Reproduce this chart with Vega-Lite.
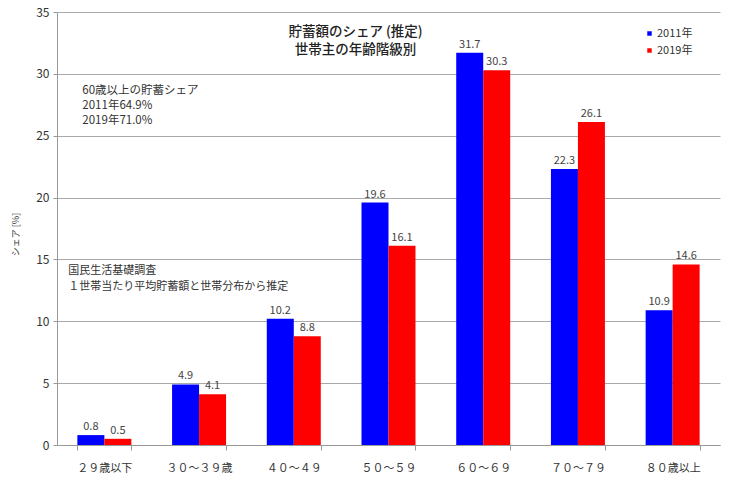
{
  "$schema": "https://vega.github.io/schema/vega-lite/v6.json",
  "autosize": "none",
  "width": 663,
  "height": 433,
  "padding": {"left": 57, "top": 12, "right": 14, "bottom": 35},
  "background": "white",
  "title": {
    "text": "貯蓄額のシェア (推定)",
    "subtitle": "世帯主の年齢階級別",
    "anchor": "middle",
    "frame": "group",
    "font": "Noto Sans CJK JP",
    "fontSize": 13.5,
    "fontWeight": 500,
    "color": "#222222",
    "subtitleFont": "Noto Sans CJK JP",
    "subtitleFontSize": 13.5,
    "subtitleFontWeight": 500,
    "subtitleColor": "#222222",
    "subtitlePadding": 4,
    "dx": -33,
    "dy": 50,
    "offset": 0
  },
  "datasets": {
    "bars": [
      {"age": "２９歳以下", "year": "2011年", "value": 0.8},
      {"age": "２９歳以下", "year": "2019年", "value": 0.5},
      {"age": "３０～３９歳", "year": "2011年", "value": 4.9},
      {"age": "３０～３９歳", "year": "2019年", "value": 4.1},
      {"age": "４０～４９", "year": "2011年", "value": 10.2},
      {"age": "４０～４９", "year": "2019年", "value": 8.8},
      {"age": "５０～５９", "year": "2011年", "value": 19.6},
      {"age": "５０～５９", "year": "2019年", "value": 16.1},
      {"age": "６０～６９", "year": "2011年", "value": 31.7},
      {"age": "６０～６９", "year": "2019年", "value": 30.3},
      {"age": "７０～７９", "year": "2011年", "value": 22.3},
      {"age": "７０～７９", "year": "2019年", "value": 26.1},
      {"age": "８０歳以上", "year": "2011年", "value": 10.9},
      {"age": "８０歳以上", "year": "2019年", "value": 14.6}
    ],
    "notes": [
      {"age": "２９歳以下", "y": 28.6, "label": "60歳以上の貯蓄シェア"},
      {"age": "２９歳以下", "y": 27.4, "label": "2011年64.9%"},
      {"age": "２９歳以下", "y": 26.2, "label": "2019年71.0%"}
    ],
    "notes2": [
      {"age": "２９歳以下", "y": 14.05, "label": "国民生活基礎調査"},
      {"age": "２９歳以下", "y": 12.8, "label": "１世帯当たり平均貯蓄額と世帯分布から推定"}
    ]
  },
  "encoding": {
    "x": {
      "field": "age",
      "type": "nominal",
      "sort": null,
      "scale": {"paddingInner": 0.43, "paddingOuter": 0.215},
      "axis": {
        "title": null,
        "labelAngle": 0,
        "labelFont": "Noto Sans CJK JP",
        "labelFontSize": 11,
        "labelColor": "#333333",
        "labelPadding": 12,
        "tickBand": "extent",
        "tickSize": 5,
        "tickColor": "#999999",
        "domainColor": "#999999",
        "grid": false
      }
    }
  },
  "layer": [
    {
      "data": {"name": "bars"},
      "mark": {"type": "bar"},
      "encoding": {
        "xOffset": {"field": "year", "type": "nominal", "scale": {"paddingInner": 0, "paddingOuter": 0}},
        "y": {
          "field": "value",
          "type": "quantitative",
          "scale": {"domain": [0, 35], "nice": false},
          "axis": {
            "values": [0, 5, 10, 15, 20, 25, 30, 35],
            "title": "シェア [%]",
            "titleFont": "Noto Sans CJK JP",
            "titleFontSize": 9,
            "titleFontWeight": "normal",
            "titleColor": "#333333",
            "titleX": -37,
            "titleY": 222,
            "titleAngle": -90,
            "labelFont": "Noto Sans CJK JP",
            "labelFontSize": 12,
            "labelColor": "#333333",
            "labelPadding": 4,
            "tickSize": 4,
            "tickColor": "#999999",
            "domainColor": "#999999",
            "gridColor": "#aaaaaa",
            "gridWidth": 1
          }
        },
        "color": {
          "field": "year",
          "type": "nominal",
          "scale": {"domain": ["2011年", "2019年"], "range": ["#0000ff", "#ff0000"]},
          "legend": {
            "title": null,
            "orient": "none",
            "legendX": 587,
            "legendY": 16,
            "symbolType": "square",
            "symbolSize": 20,
            "symbolStrokeWidth": 0,
            "labelFont": "Noto Sans CJK JP",
            "labelFontSize": 11,
            "labelColor": "#333333",
            "labelOffset": 2,
            "rowPadding": 5
          }
        }
      }
    },
    {
      "data": {"name": "bars"},
      "mark": {"type": "text", "baseline": "bottom", "dy": -3, "font": "Noto Sans CJK JP", "fontSize": 11, "color": "#444444"},
      "encoding": {
        "xOffset": {"field": "year", "type": "nominal", "scale": {"paddingInner": 0, "paddingOuter": 0}},
        "y": {"field": "value", "type": "quantitative"},
        "text": {"field": "value", "type": "quantitative", "format": ".1f"}
      }
    },
    {
      "data": {"name": "notes"},
      "mark": {"type": "text", "align": "left", "baseline": "middle", "dx": -22, "font": "Noto Sans CJK JP", "fontSize": 11.5, "color": "#333333"},
      "encoding": {
        "y": {"field": "y", "type": "quantitative"},
        "text": {"field": "label", "type": "nominal"}
      }
    },
    {
      "data": {"name": "notes2"},
      "mark": {"type": "text", "align": "left", "baseline": "middle", "dx": -36, "font": "Noto Sans CJK JP", "fontSize": 11, "color": "#333333"},
      "encoding": {
        "y": {"field": "y", "type": "quantitative"},
        "text": {"field": "label", "type": "nominal"}
      }
    }
  ],
  "config": {
    "view": {"stroke": null},
    "font": "Noto Sans CJK JP"
  }
}
